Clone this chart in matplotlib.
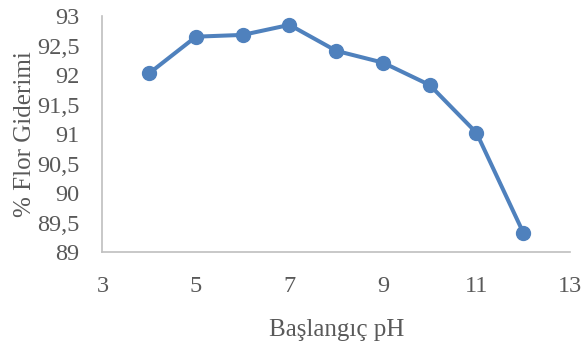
import matplotlib
matplotlib.use("Agg")
import matplotlib.pyplot as plt
from matplotlib.ticker import FuncFormatter

ph = [4, 5, 6, 7, 8, 9, 10, 11, 12]
removal = [92.03, 92.65, 92.68, 92.85, 92.41, 92.21, 91.83, 91.02, 89.33]
x_ticks = [3, 5, 7, 9, 11, 13]
y_ticks = [89, 89.5, 90, 90.5, 91, 91.5, 92, 92.5, 93]

plt.rcParams['font.family'] = ['Liberation Serif', 'DejaVu Serif']

fig = plt.figure(figsize=(5.87, 3.41), dpi=100)
ax = fig.add_axes([0.1746, 0.261, 0.7964, 0.692])
ax.plot(ph, removal, color='#4F81BD', linewidth=2.9, marker='o', markersize=10)
ax.set_xlim(3, 13)
ax.set_ylim(89, 93)
ax.set_xticks(x_ticks)
ax.set_yticks(y_ticks)
ax.yaxis.set_major_formatter(FuncFormatter(lambda v, p: ('%g' % v).replace('.', ',')))
for s in ['top', 'right']:
    ax.spines[s].set_visible(False)
for s in ['left', 'bottom']:
    ax.spines[s].set_color('#BFBFBF')
    ax.spines[s].set_linewidth(1.2)
ax.tick_params(axis='both', length=0, labelsize=17.5, colors='#595959')
ax.tick_params(axis='x', pad=17)
ax.tick_params(axis='y', pad=16.5)
ax.set_xlabel('Başlangıç pH', fontsize=18, color='#595959', labelpad=16)
ax.set_ylabel('% Flor Giderimi', fontsize=18, color='#595959', labelpad=1)
fig.savefig('out.png', dpi=100)
